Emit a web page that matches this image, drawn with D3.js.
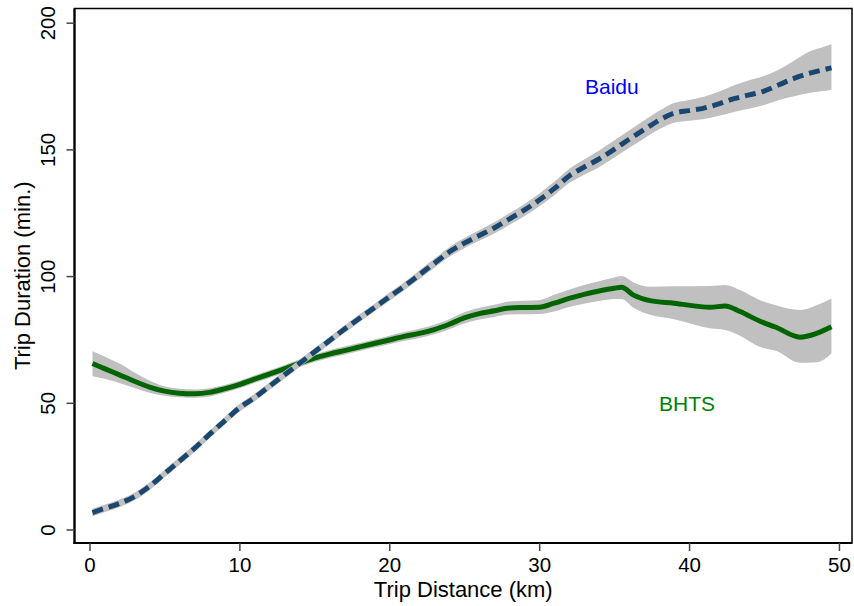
<!DOCTYPE html>
<html>
<head>
<meta charset="utf-8">
<script src="https://cdn.jsdelivr.net/npm/d3@7"></script>
<style>
  html, body { margin: 0; padding: 0; background: #fff; }
  svg { display: block; font-family: Arial, "Liberation Sans", sans-serif; }
</style>
</head>
<body>
<svg id="chart" width="854" height="606"></svg>
<script>
// ---- Data ----
const baiduX  = [0.2,1,2,3,4,5,6,7,8,9,10,11,12,13,14,15,16,17,18,19,20,21,22,23,24,25,26,27,28,29,30,31,32,33,34,35,36,37,38,39,40,41,42,43,44,45,46,47,48,49,49.5];
const baiduY  = [6.7,8.3,10.3,13.0,17.0,22.0,27.0,32.0,37.5,42.8,48.0,52.0,56.5,61.0,65.5,70.0,74.5,79.0,83.3,87.5,91.8,96.0,100.5,105.0,109.5,113.0,116.0,119.0,122.5,126.0,130.0,134.5,139.5,143.0,146.2,150.0,154.0,157.8,161.5,164.3,165.3,166.3,168.0,170.0,171.5,173.0,175.5,178.0,180.0,181.5,182.2];
const baiduLo = [5.2,6.8,8.8,11.5,15.5,20.5,25.5,30.5,36.0,41.3,46.5,50.5,55.0,59.5,64.0,68.5,73.0,77.5,81.8,86.0,90.2,94.4,98.8,103.2,107.6,111.0,113.9,116.8,120.2,123.6,127.5,131.8,136.7,140.0,143.0,146.7,150.6,154.3,157.9,160.5,161.3,162.0,163.3,164.8,166.0,167.5,169.5,171.0,172.3,173.0,173.5];
const baiduHi = [8.2,9.8,11.8,14.5,18.5,23.5,28.5,33.5,39.0,44.3,49.5,53.5,58.0,62.5,67.0,71.5,76.0,80.5,84.8,89.0,93.4,97.6,102.2,106.8,111.4,115.0,118.1,121.2,124.8,128.4,132.5,137.2,142.3,146.0,149.6,153.5,157.5,161.4,165.2,168.3,169.5,170.8,172.8,175.3,177.3,179.0,181.5,185.0,188.5,190.5,191.5];

const bhtsX  = [0.2,1,2,3,4,5,6,7,8,9,10,11,12,13,14,15,16,17,18,19,20,21,22,23,24,25,26,27,28,29,30,31,32,33,34,35,35.5,36.3,37.4,39,41.4,42.4,43.4,44.7,45.8,47.4,48.5,49.5];
const bhtsY  = [65.5,63.5,61.0,58.5,56.2,54.6,53.8,53.6,54.1,55.5,57.2,59.3,61.3,63.4,65.6,67.6,69.2,70.6,72.0,73.4,74.8,76.2,77.4,78.9,81.0,83.5,85.2,86.3,87.4,87.6,87.7,89.3,91.2,92.8,94.1,95.2,95.6,92.5,90.3,89.3,87.7,88.2,86.0,82.3,79.8,75.9,77.4,80.0];
const bhtsLo = [60.5,59.5,57.8,55.8,54.0,52.8,52.2,52.0,52.5,54.0,55.7,57.8,59.8,61.9,64.1,66.1,67.7,69.0,70.4,71.8,73.1,74.5,75.6,77.0,79.0,81.3,82.9,83.9,84.8,84.9,85.0,86.0,87.8,89.1,90.2,91.0,91.0,87.5,84.7,83.0,79.4,78.7,76.5,72.1,70.5,65.8,66.0,69.5];
const bhtsHi = [70.3,68.3,65.5,62.0,58.8,56.5,55.5,55.2,55.7,57.0,58.7,60.8,62.8,64.9,67.1,69.1,70.7,72.2,73.6,75.0,76.5,77.9,79.2,80.8,83.0,85.7,87.5,88.7,90.0,90.3,90.5,92.6,94.6,96.5,98.0,99.4,100.0,97.5,95.8,96.0,96.1,96.5,94.5,90.6,88.5,86.6,88.5,91.2];

const xTicks = [0,10,20,30,40,50];
const yTicks = [0,50,100,150,200];
const xTitle = "Trip Distance (km)";
const yTitle = "Trip Duration (min.)";
const seriesLabels = ["Baidu", "BHTS"];

// ---- Layout ----
const L = 74.5, R = 852, T = 8.5, B = 543;
const svg = d3.select("#chart");

const x = d3.scaleLinear().domain([-1, 50.87]).range([L, R]);
const y = d3.scaleLinear().domain([-5.33, 205.6]).range([B, T]);

const band = d3.area().x(d => x(d.x)).y0(d => y(d.lo)).y1(d => y(d.hi)).curve(d3.curveMonotoneX);
const line = d3.line().x(d => x(d.x)).y(d => y(d.y)).curve(d3.curveMonotoneX);

const baidu = baiduX.map((v, i) => ({x: v, y: baiduY[i], lo: baiduLo[i], hi: baiduHi[i]}));
const bhts  = bhtsX.map((v, i) => ({x: v, y: bhtsY[i], lo: bhtsLo[i], hi: bhtsHi[i]}));

const g = svg.append("g");

// BHTS band + line
g.append("path").datum(bhts).attr("d", band).attr("fill", "#c0c0c0");
g.append("path").datum(bhts).attr("d", line).attr("fill", "none")
  .attr("stroke", "#006400").attr("stroke-width", 5).attr("stroke-linejoin", "round");

// Baidu band + dashed line
g.append("path").datum(baidu).attr("d", band).attr("fill", "#c0c0c0");
g.append("path").datum(baidu).attr("d", line).attr("fill", "none")
  .attr("stroke", "#1a476f").attr("stroke-width", 5).attr("stroke-dasharray", "11,6");

// Series labels
svg.append("text").attr("x", 585).attr("y", 94).attr("font-size", 21)
  .attr("fill", "#0000ff").text(seriesLabels[0]);
svg.append("text").attr("x", 659).attr("y", 410.5).attr("font-size", 21)
  .attr("fill", "#008000").text(seriesLabels[1]);

// Frame
svg.append("rect").attr("x", L).attr("y", T).attr("width", R - L).attr("height", B - T)
  .attr("fill", "none").attr("stroke", "#000").attr("stroke-width", 1.5);

// Axes
const yAxis = svg.append("g").attr("transform", `translate(${L},0)`)
  .call(d3.axisLeft(y).tickValues(yTicks).tickSize(8).tickFormat(d3.format("d")));
yAxis.select(".domain").attr("stroke", "#000").attr("stroke-width", 2.2)
  .attr("d", `M0,${T}V${B + 1}`);
yAxis.selectAll(".tick line").attr("stroke", "#444").attr("stroke-width", 1.5);
yAxis.selectAll(".tick text")
  .attr("x", null).attr("dy", null)
  .attr("transform", "translate(-19.5,0) rotate(-90)")
  .attr("text-anchor", "middle")
  .attr("font-size", 20.5).attr("font-family", "Arial, 'Liberation Sans', sans-serif").attr("fill", "#000");

const xAxis = svg.append("g").attr("transform", `translate(0,${B})`)
  .call(d3.axisBottom(x).tickValues(xTicks).tickSize(8).tickFormat(d3.format("d")));
xAxis.select(".domain").attr("stroke", "#000").attr("stroke-width", 2.2)
  .attr("d", `M${L - 1},0H${R}`);
xAxis.selectAll(".tick line").attr("stroke", "#444").attr("stroke-width", 1.5);
xAxis.selectAll(".tick text")
  .attr("y", 28.7).attr("dy", null)
  .attr("font-size", 20.5).attr("font-family", "Arial, 'Liberation Sans', sans-serif").attr("fill", "#000");

// Axis titles
svg.append("text").attr("x", (L + R) / 2).attr("y", 596.5).attr("text-anchor", "middle")
  .attr("font-size", 22).attr("fill", "#000").text(xTitle);
svg.append("text").attr("transform", `translate(30,${(T + B) / 2}) rotate(-90)`)
  .attr("text-anchor", "middle").attr("font-size", 22).attr("fill", "#000").text(yTitle);
</script>
</body>
</html>
